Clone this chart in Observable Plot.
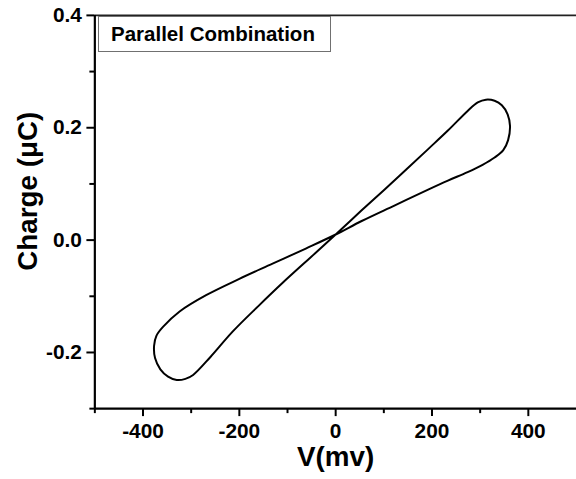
<!DOCTYPE html>
<html><head><meta charset="utf-8">
<script src="https://cdn.jsdelivr.net/npm/d3@7"></script>
<script src="https://cdn.jsdelivr.net/npm/@observablehq/plot@0.6"></script>
<style>
html,body{margin:0;padding:0;background:#fff;overflow:hidden;width:576px;height:479px}
#wrap{position:relative;width:576px;height:479px;overflow:hidden}
#wrap svg{position:absolute;left:0;top:0}
#legend{position:absolute;z-index:2;left:98px;top:16px;width:233px;height:36px;box-sizing:border-box;border:1px solid #707070;background:#fff;font:bold 20.5px "Liberation Sans",Arial,sans-serif;color:#000;padding-left:12px;line-height:34px;white-space:nowrap}
</style></head><body><div id="wrap"></div>
<script>
// Loop traced in order: origin -> steep branch up -> upper tip -> shallow branch back -> lower tip -> steep branch back
const voltage = [0, 54, 123, 192, 233, 274, 295, 312, 330, 345, 357, 362, 358, 348, 330, 305, 274, 233, 192, 123, 54, 0,
  -62, -131, -200, -269, -324, -358, -372, -377, -375, -364, -348, -330, -312, -296, -260, -214, -160, -110, -42, 0];
const charge = [0.010, 0.053, 0.107, 0.162, 0.195, 0.230, 0.245, 0.250, 0.248, 0.240, 0.224, 0.203, 0.178, 0.160, 0.147, 0.134, 0.121, 0.106, 0.090, 0.062, 0.034, 0.010,
  -0.015, -0.042, -0.069, -0.098, -0.127, -0.154, -0.170, -0.188, -0.210, -0.230, -0.243, -0.249, -0.247, -0.240, -0.208, -0.163, -0.117, -0.076, -0.023, 0.010];
const xMajorTicks = [-400, -200, 0, 200, 400];
const xMinorTicks = [-500, -300, -100, 100, 300];
const yMajorTicks = [-0.2, 0, 0.2, 0.4];
const yMinorTicks = [-0.3, -0.1, 0.1, 0.3];
const xDomain = [-500, 500];
const yDomain = [-0.3, 0.4];
const xTitle = "V(mv)";
const yTitle = "Charge (\u03bcC)";
const legendLabel = "Parallel Combination";

const loop = voltage.map((v, i) => ({v, q: charge[i], i}));
const font = '"Liberation Sans", Arial, sans-serif';

const chart = Plot.plot({
  width: 580, height: 479,
  marginLeft: 95, marginRight: 0, marginTop: 15, marginBottom: 68,
  style: {fontFamily: font, background: "white", color: "black"},
  x: {domain: xDomain, label: null},
  y: {domain: yDomain, label: null},
  marks: [
    Plot.ruleY([yDomain[1]], {stroke: "#222", strokeWidth: 1.6}),
    Plot.axisX({ticks: xMinorTicks, tickSize: 5, text: null, strokeWidth: 2, label: null}),
    Plot.axisX({ticks: xMajorTicks, tickSize: 8, tickPadding: 7, tickFormat: d => String(d), fontSize: 21, fontWeight: "bold", strokeWidth: 2, label: null}),
    Plot.axisY({ticks: yMinorTicks, tickSize: 5, text: null, strokeWidth: 2, label: null}),
    Plot.axisY({ticks: yMajorTicks, tickSize: 8, tickPadding: 5, tickFormat: d => d.toFixed(1), fontSize: 21, fontWeight: "bold", strokeWidth: 2, label: null}),
    Plot.ruleX([xDomain[0]], {stroke: "black", strokeWidth: 2.2}),
    Plot.ruleY([yDomain[0]], {stroke: "black", strokeWidth: 2.2}),
    Plot.line(loop, {x: "v", y: "q", curve: "catmull-rom", stroke: "black", strokeWidth: 2}),
    Plot.text([xTitle], {text: d => d, frameAnchor: "bottom", dy: 49, lineAnchor: "middle", textAnchor: "middle", fontSize: 28, fontWeight: "bold", fill: "black"}),
    Plot.text([yTitle], {text: d => d, frameAnchor: "left", rotate: -90, dx: -67, dy: -21, lineAnchor: "middle", textAnchor: "middle", fontSize: 28, fontWeight: "bold", fill: "black"})
  ]
});
const wrap = document.getElementById("wrap");
wrap.appendChild(chart);
const legend = document.createElement("div");
legend.id = "legend";
legend.textContent = legendLabel;
wrap.appendChild(legend);
</script>
</body></html>
